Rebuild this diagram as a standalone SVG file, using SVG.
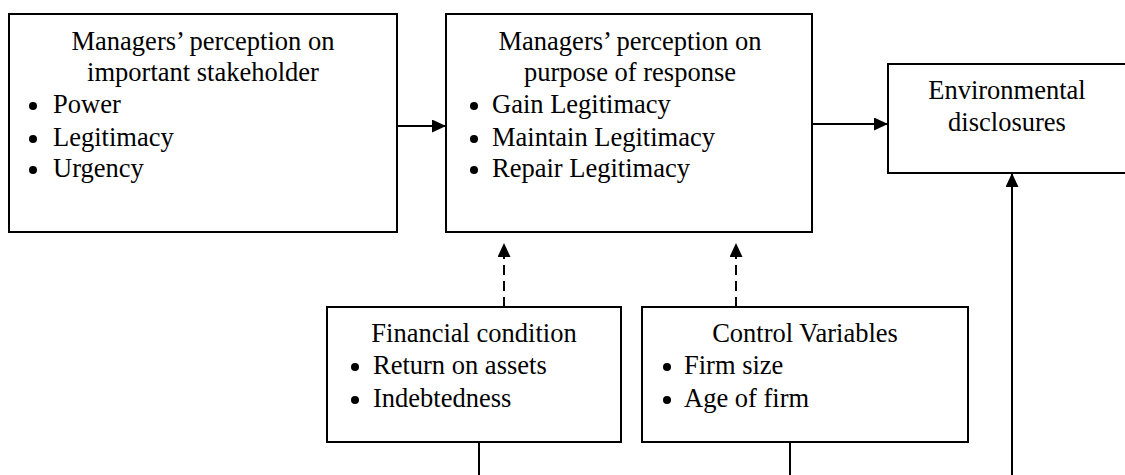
<svg xmlns="http://www.w3.org/2000/svg" width="1125" height="475" viewBox="0 0 1125 475">
<style>
.box{fill:#fff;stroke:#000;stroke-width:2}
text{font-family:"Liberation Serif","Times New Roman",serif;font-size:26.5px;fill:#000}
.c{text-anchor:middle}
.dot{fill:#000}
.ln{stroke:#000;stroke-width:2;fill:none}
.dash{stroke-dasharray:10 6}
</style>
<defs>
<marker id="ah" viewBox="0 0 14 13" refX="14" refY="6.5" markerWidth="14" markerHeight="13" markerUnits="userSpaceOnUse" orient="auto">
<path d="M0,0 L14,6.5 L0,13 Z" fill="#000"/>
</marker>
</defs>
<rect width="1125" height="475" fill="#fff"/>
<g id="connectors">
<line class="ln" x1="397" y1="126" x2="446" y2="126" marker-end="url(#ah)"/>
<line class="ln" x1="812" y1="124" x2="888" y2="124" marker-end="url(#ah)"/>
<line class="ln dash" x1="504" y1="307" x2="504" y2="243" marker-end="url(#ah)"/>
<line class="ln dash" x1="736" y1="307" x2="736" y2="243" marker-end="url(#ah)"/>
<line class="ln" x1="479" y1="442" x2="479" y2="475"/>
<line class="ln" x1="790" y1="442" x2="790" y2="475"/>
<line class="ln" x1="1012" y1="475" x2="1012" y2="173" marker-end="url(#ah)"/>
</g>
<g id="node-stakeholder">
<rect class="box" x="9" y="14" width="388" height="218"/>
<text class="c" x="203" y="50">Managers’ perception on</text>
<text class="c" x="203" y="81">important stakeholder</text>
<circle class="dot" cx="33" cy="106" r="4"/>
<circle class="dot" cx="33" cy="139" r="4"/>
<circle class="dot" cx="33" cy="170" r="4"/>
<text x="53" y="113">Power</text>
<text x="53" y="146">Legitimacy</text>
<text x="53" y="177">Urgency</text>
</g>
<g id="node-purpose">
<rect class="box" x="446" y="14" width="366" height="218"/>
<text class="c" x="630" y="50">Managers’ perception on</text>
<text class="c" x="630" y="81">purpose of response</text>
<circle class="dot" cx="474" cy="106" r="4"/>
<circle class="dot" cx="474" cy="139" r="4"/>
<circle class="dot" cx="474" cy="170" r="4"/>
<text x="492" y="113">Gain Legitimacy</text>
<text x="492" y="146">Maintain Legitimacy</text>
<text x="492" y="177">Repair Legitimacy</text>
</g>
<g id="node-disclosures">
<rect class="box" x="888" y="64" width="240" height="109"/>
<text class="c" x="1007" y="99">Environmental</text>
<text class="c" x="1007" y="131">disclosures</text>
</g>
<g id="node-financial">
<rect class="box" x="327" y="307" width="294" height="135"/>
<text class="c" x="474" y="342">Financial condition</text>
<circle class="dot" cx="355" cy="367" r="4"/>
<circle class="dot" cx="355" cy="400" r="4"/>
<text x="373" y="374">Return on assets</text>
<text x="373" y="407">Indebtedness</text>
</g>
<g id="node-control">
<rect class="box" x="642" y="307" width="326" height="135"/>
<text class="c" x="805" y="342">Control Variables</text>
<circle class="dot" cx="667" cy="367" r="4"/>
<circle class="dot" cx="667" cy="400" r="4"/>
<text x="684" y="374">Firm size</text>
<text x="684" y="407">Age of firm</text>
</g>
</svg>
